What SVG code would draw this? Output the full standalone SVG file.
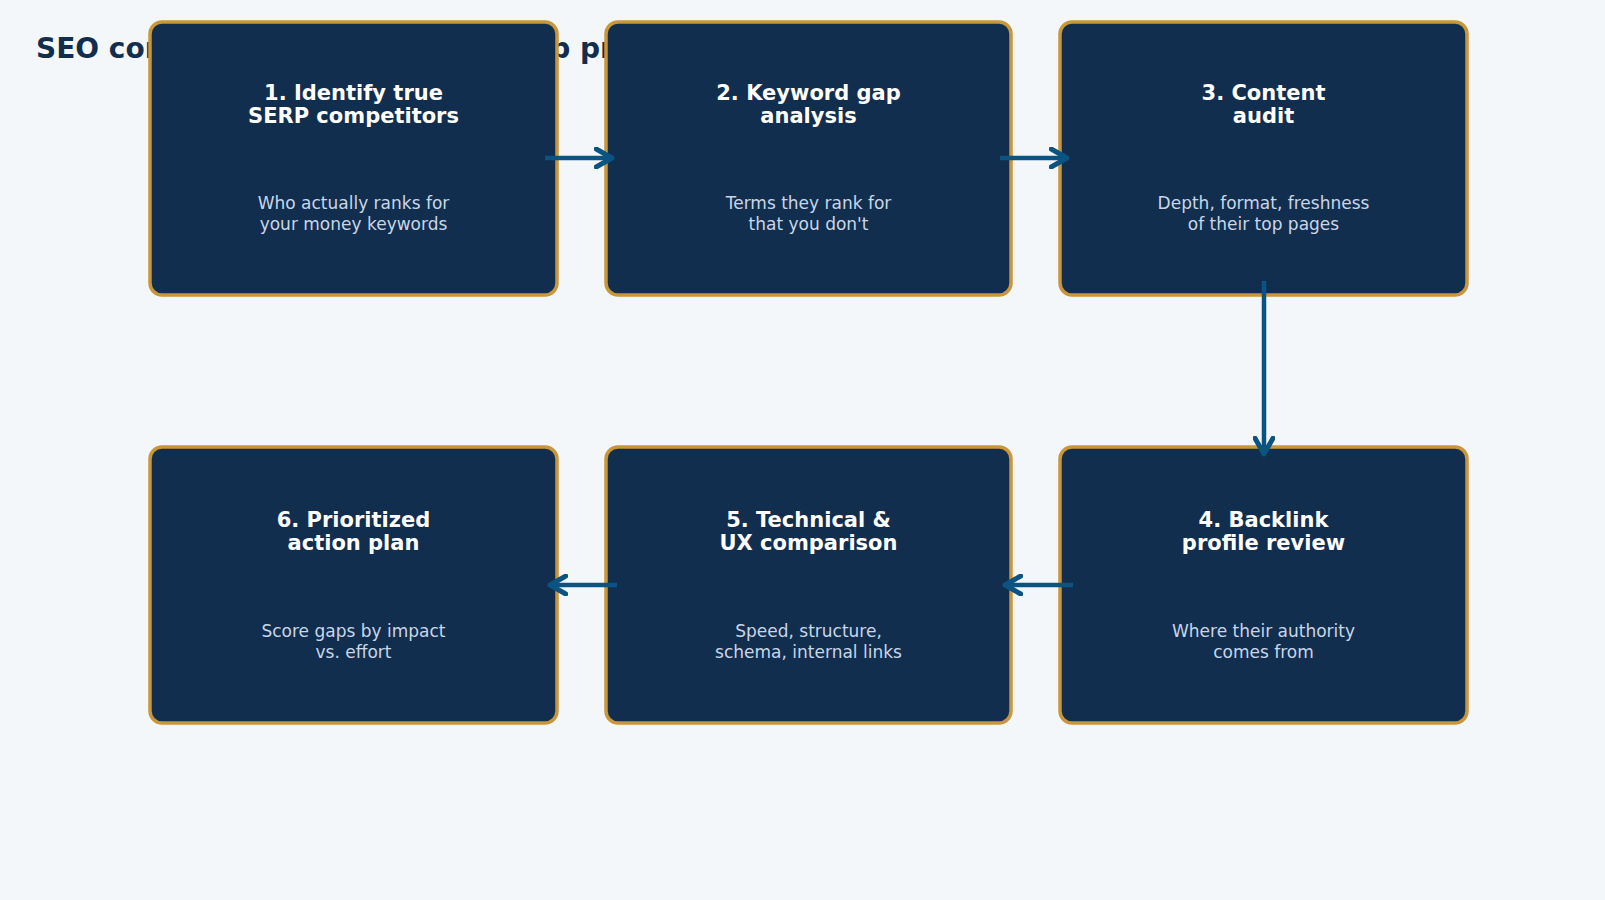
<svg xmlns="http://www.w3.org/2000/svg" width="1605" height="900" viewBox="0 0 1605 900">
<style>
.box{fill:#122e4e;stroke:#c9973a;stroke-width:3.5}
.t{font-family:"DejaVu Sans",sans-serif;font-weight:bold;font-size:21px;fill:#ffffff;text-anchor:middle}
.s{font-family:"DejaVu Sans",sans-serif;font-size:17px;fill:#c8d6e8;text-anchor:middle}
.c{stroke:#0b5482;stroke-width:4.5;fill:none;marker-end:url(#ah)}
</style>
<defs><marker id="ah" viewBox="0 0 10 10" refX="8" refY="5" markerWidth="5" markerHeight="5" orient="auto"><path d="M1,1 L8,5 L1,9" fill="none" stroke="#0b5482" stroke-width="2.2" stroke-linejoin="round" stroke-linecap="round"/></marker></defs>
<rect width="1605" height="900" fill="#f4f7fa"/>
<text x="36" y="58" font-family="DejaVu Sans,sans-serif" font-weight="bold" font-size="28" fill="#122e4e">SEO competitor analysis: a 6-step process</text>
<g id="n1"><rect class="box" x="150" y="22" width="407" height="273" rx="12"/><text class="t" x="353.5" y="100">1. Identify true</text><text class="t" x="353.5" y="123">SERP competitors</text><text class="s" x="353.5" y="209">Who actually ranks for</text><text class="s" x="353.5" y="230">your money keywords</text></g>
<g id="n2"><rect class="box" x="606" y="22" width="405" height="273" rx="12"/><text class="t" x="808.5" y="100">2. Keyword gap</text><text class="t" x="808.5" y="123">analysis</text><text class="s" x="808.5" y="209">Terms they rank for</text><text class="s" x="808.5" y="230">that you don't</text></g>
<g id="n3"><rect class="box" x="1060" y="22" width="407" height="273" rx="12"/><text class="t" x="1263.5" y="100">3. Content</text><text class="t" x="1263.5" y="123">audit</text><text class="s" x="1263.5" y="209">Depth, format, freshness</text><text class="s" x="1263.5" y="230">of their top pages</text></g>
<g id="n4"><rect class="box" x="1060" y="447" width="407" height="276" rx="12"/><text class="t" x="1263.5" y="527">4. Backlink</text><text class="t" x="1263.5" y="550">profile review</text><text class="s" x="1263.5" y="637">Where their authority</text><text class="s" x="1263.5" y="658">comes from</text></g>
<g id="n5"><rect class="box" x="606" y="447" width="405" height="276" rx="12"/><text class="t" x="808.5" y="527">5. Technical &amp;</text><text class="t" x="808.5" y="550">UX comparison</text><text class="s" x="808.5" y="637">Speed, structure,</text><text class="s" x="808.5" y="658">schema, internal links</text></g>
<g id="n6"><rect class="box" x="150" y="447" width="407" height="276" rx="12"/><text class="t" x="353.5" y="527">6. Prioritized</text><text class="t" x="353.5" y="550">action plan</text><text class="s" x="353.5" y="637">Score gaps by impact</text><text class="s" x="353.5" y="658">vs. effort</text></g>
<g id="connectors">
<line class="c" x1="545" y1="158" x2="612" y2="158"/>
<line class="c" x1="1000" y1="158" x2="1067" y2="158"/>
<line class="c" x1="1264" y1="281" x2="1264" y2="454"/>
<line class="c" x1="1073" y1="585" x2="1005" y2="585"/>
<line class="c" x1="617" y1="585" x2="550" y2="585"/>
</g>
</svg>
